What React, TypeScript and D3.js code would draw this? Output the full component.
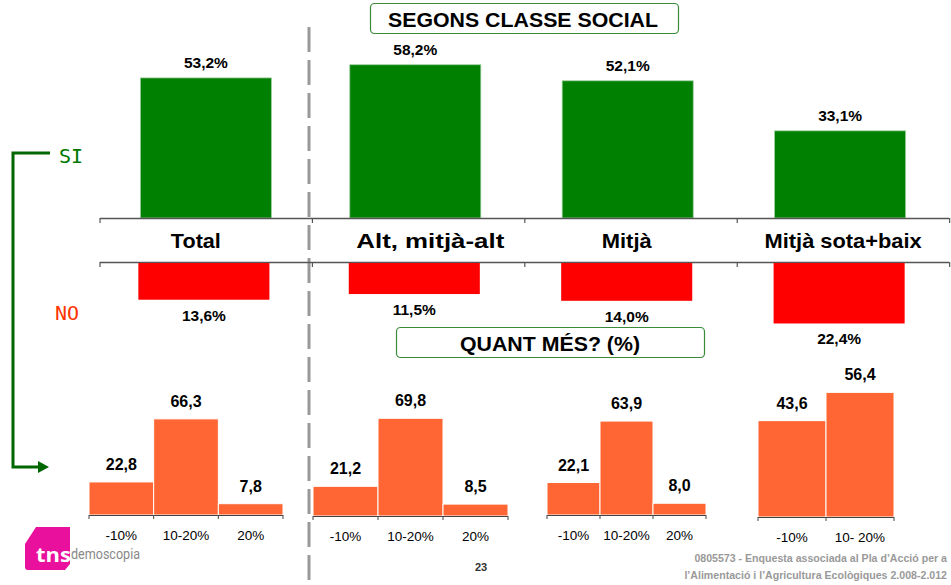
import React from "react";
import * as d3 from "d3";

const categories = ["Total", "Alt, mitjà-alt", "Mitjà", "Mitjà sota+baix"];
const siValues = [53.2, 58.2, 52.1, 33.1];
const noValues = [13.6, 11.5, 14.0, 22.4];
const quantLabels = [
  ["-10%", "10-20%", "20%"],
  ["-10%", "10-20%", "20%"],
  ["-10%", "10-20%", "20%"],
  ["-10%", "10- 20%"],
];
const quantValues = [
  [22.8, 66.3, 7.8],
  [21.2, 69.8, 8.5],
  [22.1, 63.9, 8.0],
  [43.6, 56.4],
];

const fmt = (v: number) => v.toFixed(1).replace(".", ",");
const FONT = "'Liberation Sans', Arial, sans-serif";

export default function App() {
  const W = 951, H = 585;
  const band = d3.scaleBand<string>().domain(categories).range([100, 949]).paddingInner(0.383).paddingOuter(0.19);
  const siBase = 218;
  const noBase = 262;
  const ySi = d3.scaleLinear().domain([0, 60]).range([0, 158]);
  const yNo = d3.scaleLinear().domain([0, 30]).range([0, 81]);

  const groups = [
    { x0: 89, x1: 283, base: 515, scale: d3.scaleLinear().domain([0, 100]).range([0, 145]) },
    { x0: 313, x1: 508, base: 516, scale: d3.scaleLinear().domain([0, 100]).range([0, 140]) },
    { x0: 547, x1: 706, base: 515, scale: d3.scaleLinear().domain([0, 100]).range([0, 147]) },
    { x0: 758, x1: 894, base: 517, scale: d3.scaleLinear().domain([0, 100]).range([0, 221]) },
  ];

  const step = band.step();
  const boundaries = d3.range(categories.length + 1).map((i) => 100 + i * step);
  const catWidths = [50, 148, 50, 157];

  return (
    <div style={{ position: "absolute", left: 0, top: 0 }}>
      <svg width={W} height={H} style={{ display: "block", background: "#fff" }} fontFamily={FONT}>
        {/* dashed separator */}
        <line x1={309} x2={309} y1={27} y2={H} stroke="#999" strokeWidth={3} strokeDasharray="25,8" />

        {/* title box */}
        <rect x={370.5} y={3.5} width={308} height={30} rx={4} fill="#fff" stroke="#3a8a3a" strokeWidth={1.2} />
        <text x={523} y={27} textAnchor="middle" fontWeight="bold" fontSize={21} textLength={270} lengthAdjust="spacingAndGlyphs">SEGONS CLASSE SOCIAL</text>

        {/* SI bars */}
        {categories.map((c, i) => {
          const x = (band(c) as number) - (i === 0 ? 0 : 3);
          const h = ySi(siValues[i]);
          return (
            <g key={"si" + c}>
              <rect x={x} y={siBase - h} width={band.bandwidth()} height={h} fill="#008000" stroke="#9fcf9f" strokeWidth={0.8} />
              <text x={x + band.bandwidth() / 2} y={siBase - h - 10} textAnchor="middle" fontWeight="bold" fontSize={15.5}>{fmt(siValues[i])}%</text>
            </g>
          );
        })}

        {/* axes lines */}
        {[siBase, noBase].map((y) => (
          <g key={"ax" + y}>
            <line x1={100} x2={949} y1={y + 0.5} y2={y + 0.5} stroke="#555" strokeWidth={1.5} />
            {boundaries.map((b) => (
              <line key={b} x1={b} x2={b} y1={y} y2={y + 5} stroke="#555" strokeWidth={1.2} />
            ))}
          </g>
        ))}

        {/* category labels */}
        {categories.map((c, i) => (
          <text key={"lab" + c} x={(band(c) as number) + band.bandwidth() / 2 + [-10, 12, -4, 0][i]} y={248} textAnchor="middle" fontWeight="bold" fontSize={21} textLength={catWidths[i]} lengthAdjust="spacingAndGlyphs">{c}</text>
        ))}

        {/* NO bars */}
        {categories.map((c, i) => {
          const x = (band(c) as number) - (i === 0 ? 2 : 4);
          const h = yNo(noValues[i]);
          return (
            <g key={"no" + c}>
              <rect x={x} y={noBase + 1} width={band.bandwidth()} height={h} fill="#ff0000" />
              <text x={x + band.bandwidth() / 2} y={noBase + h + 22} textAnchor="middle" fontWeight="bold" fontSize={15.5}>{fmt(noValues[i])}%</text>
            </g>
          );
        })}

        {/* SI / NO bracket */}
        <path d="M50,153 H13 V467 H40" fill="none" stroke="#006600" strokeWidth={3} />
        <path d="M49,467 L38,461 L38,473 Z" fill="#006600" />
        <text x={59} y={163} fontSize={20} fill="#007700" fontFamily="'DejaVu Sans Mono', monospace">SI</text>
        <text x={55} y={320} fontSize={20} fill="#ff3300" fontFamily="'DejaVu Sans Mono', monospace">NO</text>

        {/* QUANT MES box */}
        <rect x={396.5} y={327.5} width={308} height={30} rx={4} fill="#fff" stroke="#3a8a3a" strokeWidth={1.2} />
        <text x={550} y={351} textAnchor="middle" fontWeight="bold" fontSize={21} textLength={180} lengthAdjust="spacingAndGlyphs">QUANT MÉS? (%)</text>

        {/* histograms */}
        {groups.map((g, gi) => {
          const xb = d3.scaleBand<string>().domain(quantLabels[gi]).range([g.x0, g.x1]).padding(0);
          return (
            <g key={"grp" + gi}>
              {quantLabels[gi].map((l, j) => {
                const h = g.scale(quantValues[gi][j]);
                const x = xb(l) as number;
                return (
                  <g key={l}>
                    <rect x={x} y={g.base - h} width={xb.bandwidth()} height={h} fill="#ff6633" stroke="#fff" strokeWidth={1} />
                    <text x={x + xb.bandwidth() / 2} y={g.base - h - 12} textAnchor="middle" fontWeight="bold" fontSize={16}>{fmt(quantValues[gi][j])}</text>
                    <text x={x + xb.bandwidth() / 2} y={g.base + 25} textAnchor="middle" fontSize={13.5}>{l}</text>
                  </g>
                );
              })}
              <line x1={g.x0} x2={g.x1} y1={g.base + 0.5} y2={g.base + 0.5} stroke="#444" strokeWidth={1.2} />
              {d3.range(quantLabels[gi].length + 1).map((k) => {
                const bx = g.x0 + k * xb.step();
                return <line key={k} x1={bx} x2={bx} y1={g.base} y2={g.base + 4} stroke="#444" strokeWidth={1} />;
              })}
            </g>
          );
        })}

        {/* logo */}
        <path d="M36,527 H70 V564 L65,570 H28 Q25,570 25,567 V544 Z" fill="#e8109c" />
        <text x={36} y={562} fill="#fff" fontWeight="bold" fontSize={20} fontFamily="'Open Sans', sans-serif" textLength={35} lengthAdjust="spacingAndGlyphs">tns</text>
        <text x={71} y={559} fill="#888" fontSize={15} fontFamily="'Liberation Sans Narrow', 'Roboto', sans-serif" textLength={69} lengthAdjust="spacingAndGlyphs">demoscopia</text>

        {/* footer */}
        <text x={481} y={571} textAnchor="middle" fontWeight="bold" fontSize={11} fill="#333">23</text>
        <text x={947} y={562} textAnchor="end" fontWeight="bold" fontSize={10.6} fill="#999">0805573 - Enquesta associada al Pla d’Acció per a</text>
        <text x={947} y={579} textAnchor="end" fontWeight="bold" fontSize={10.6} fill="#999">l’Alimentació i l’Agricultura Ecològiques 2.008-2.012</text>
      </svg>
    </div>
  );
}
